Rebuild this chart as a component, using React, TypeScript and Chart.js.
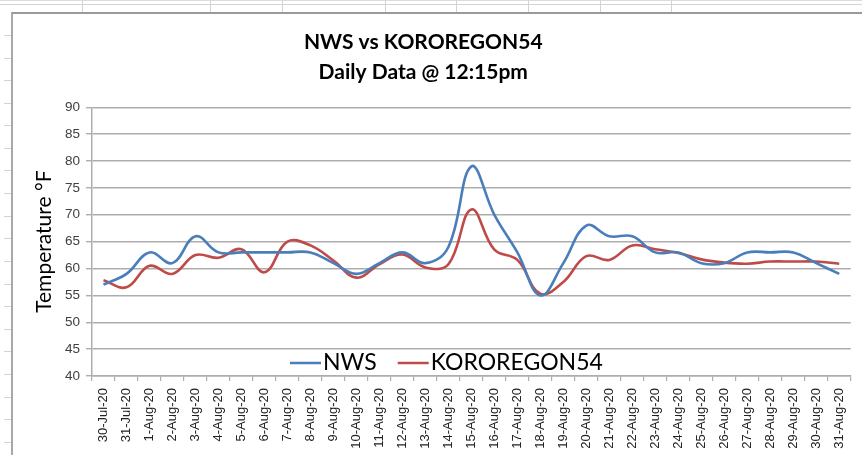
import React, { useEffect, useRef } from 'react';
import { Chart, registerables } from 'chart.js';

Chart.register(...registerables);

const categories = [
  '30-Jul-20', '31-Jul-20', '1-Aug-20', '2-Aug-20', '3-Aug-20', '4-Aug-20', '5-Aug-20',
  '6-Aug-20', '7-Aug-20', '8-Aug-20', '9-Aug-20', '10-Aug-20', '11-Aug-20', '12-Aug-20',
  '13-Aug-20', '14-Aug-20', '15-Aug-20', '16-Aug-20', '17-Aug-20', '18-Aug-20', '19-Aug-20',
  '20-Aug-20', '21-Aug-20', '22-Aug-20', '23-Aug-20', '24-Aug-20', '25-Aug-20', '26-Aug-20',
  '27-Aug-20', '28-Aug-20', '29-Aug-20', '30-Aug-20', '31-Aug-20',
];

const nwsValues = [
  57, 59, 63, 61, 66, 63, 63, 63, 63, 63, 61, 59, 61, 63, 61, 64, 79,
  70, 63, 55, 61, 68, 66, 66, 63, 63, 61, 61, 63, 63, 63, 61, 59,
];

const koroValues = [
  57.8, 56.5, 60.5, 59, 62.5, 62, 63.6, 59.3, 65, 64.3, 61.5, 58.3, 60.8, 62.6, 60.2, 60.8, 71,
  63.5, 61.6, 55.3, 57.5, 62.3, 61.6, 64.3, 63.6, 62.9, 61.7, 61.1, 60.9, 61.3, 61.3, 61.3, 60.9,
];

const seriesNames = ['NWS', 'KOROREGON54'];
const titleLines = ['NWS vs KOROREGON54', 'Daily Data @ 12:15pm'];
const yAxisTitle = 'Temperature °F';
const yMin = 40;
const yMax = 90;
const yStep = 5;

const sheetColX = [82, 210, 282, 385, 456, 528, 600, 671];
const sheetRowY = [35, 58, 80, 103, 125, 148, 170, 193, 216, 238, 261, 284, 306, 329, 351, 374, 397, 419, 442];

const GRID = '#adadad';

const insideLegend = {
  id: 'insideLegend',
  afterDatasetsDraw(chart: any) {
    const { ctx, chartArea } = chart;
    ctx.save();
    ctx.font = '23px Lato';
    ctx.textBaseline = 'alphabetic';
    ctx.textAlign = 'left';
    let x = chartArea.left + 198;
    const lineY = chartArea.bottom - 13;
    const textY = chartArea.bottom - 6.5;
    chart.data.datasets.forEach((ds: any) => {
      ctx.strokeStyle = ds.borderColor;
      ctx.lineWidth = 2.5;
      ctx.beginPath();
      ctx.moveTo(x, lineY);
      ctx.lineTo(x + 31, lineY);
      ctx.stroke();
      x += 33;
      ctx.fillStyle = '#000';
      ctx.fillText(ds.label, x, textY);
      x += ctx.measureText(ds.label).width + 21;
    });
    ctx.restore();
  },
};

const titleShift = {
  id: 'titleShift',
  afterLayout(chart: any) {
    const t = chart.titleBlock;
    if (t) {
      t.left -= 9.5;
      t.right -= 9.5;
    }
  },
};

export default function App() {
  const canvasRef = useRef<HTMLCanvasElement | null>(null);

  useEffect(() => {
    const canvas = canvasRef.current;
    if (!canvas) return;
    const chart = new Chart(canvas, {
      type: 'line',
      data: {
        labels: categories,
        datasets: [
          {
            label: seriesNames[0],
            data: nwsValues,
            borderColor: '#4a7ebb',
            backgroundColor: '#4a7ebb',
            borderWidth: 2.6,
            pointRadius: 0,
            tension: 0.4,
            fill: false,
          },
          {
            label: seriesNames[1],
            data: koroValues,
            borderColor: '#be4b48',
            backgroundColor: '#be4b48',
            borderWidth: 2.6,
            pointRadius: 0,
            tension: 0.4,
            fill: false,
          },
        ],
      },
      options: {
        animation: false,
        responsive: false,
        maintainAspectRatio: false,
        layout: { padding: { left: 0, right: 9.5, top: 0, bottom: 0 } },
        plugins: {
          legend: { display: false },
          tooltip: { enabled: false },
          title: {
            display: true,
            text: titleLines,
            color: '#000',
            font: { family: 'Lato', size: 21, weight: 'bold', lineHeight: 1.4 },
            padding: { top: 15, bottom: 20.5 },
          },
        },
        scales: {
          x: {
            type: 'category',
            offset: true,
            grid: {
              offset: true,
              drawOnChartArea: false,
              drawTicks: true,
              tickLength: 5,
              color: GRID,
              lineWidth: 1.2,
            },
            border: { display: true, color: GRID, width: 1.5 },
            ticks: {
              autoSkip: false,
              minRotation: 90,
              maxRotation: 90,
              padding: 7,
              color: '#222',
              font: { family: 'Liberation Sans', size: 13 },
            },
            afterFit(scale: any) {
              scale.height = 79;
            },
          },
          y: {
            min: yMin,
            max: yMax,
            ticks: {
              stepSize: yStep,
              padding: 6,
              color: '#404040',
              font: { family: 'Liberation Sans', size: 13.5 },
            },
            grid: {
              color: GRID,
              lineWidth: 1.4,
              tickLength: 6,
            },
            border: { display: true, color: GRID, width: 1.5 },
            title: {
              display: true,
              text: yAxisTitle,
              color: '#000',
              font: { family: 'Lato', size: 21, lineHeight: 1.2 },
              padding: { top: 19, bottom: 0 },
            },
            afterFit(scale: any) {
              scale.width = 79;
            },
          },
        },
      },
      plugins: [insideLegend, titleShift],
    });
    return () => chart.destroy();
  }, []);

  return (
    <div style={{ position: 'fixed', left: 0, top: 0, width: 862, height: 455, background: '#fff', overflow: 'hidden' }}>
      <div style={{ position: 'absolute', left: 0, top: 0, width: 862, height: 1, background: '#dcdcdc' }} />
      <div style={{ position: 'absolute', left: 0, top: 4, width: 862, height: 1, background: '#d4d4d4' }} />
      {sheetColX.map((x) => (
        <div key={'c' + x} style={{ position: 'absolute', left: x, top: 0, width: 1, height: 12, background: '#d4d4d4' }} />
      ))}
      {sheetRowY.map((y) => (
        <div key={'r' + y} style={{ position: 'absolute', left: 4, top: y, width: 7, height: 1, background: '#d4d4d4' }} />
      ))}
      <div
        style={{
          position: 'absolute',
          left: 11,
          top: 12,
          width: 900,
          height: 500,
          borderLeft: '2px solid #a8a8a8',
          borderTop: '2px solid #9a9a9a',
          boxSizing: 'border-box',
        }}
      />
      <canvas
        ref={canvasRef}
        width={849}
        height={442}
        style={{ position: 'absolute', left: 13, top: 13, width: 849, height: 442 }}
      />
    </div>
  );
}
